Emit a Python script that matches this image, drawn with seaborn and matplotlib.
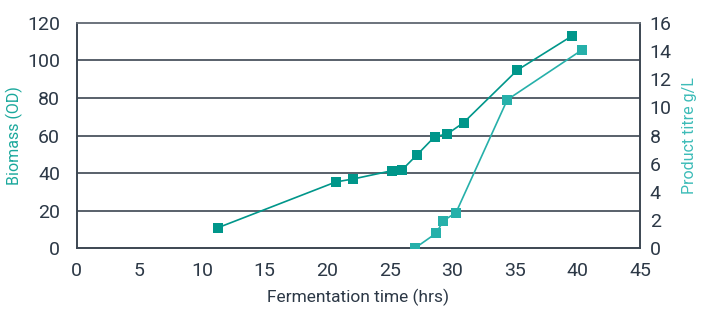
import matplotlib
matplotlib.use("Agg")
import matplotlib.pyplot as plt
import seaborn as sns
import pandas as pd

# Data
biomass_time = [11.3, 20.7, 22.1, 25.2, 26.0, 27.2, 28.6, 29.6, 30.9, 35.2, 39.6]
biomass_od = [11.0, 35.3, 36.9, 41.3, 41.8, 49.8, 59.4, 60.8, 66.8, 94.8, 113.1]
titre_time = [27.0, 28.7, 29.3, 30.3, 34.4, 40.4]
titre_gl = [0.0, 1.06, 1.96, 2.53, 10.54, 14.09]

x_ticks = [0, 5, 10, 15, 20, 25, 30, 35, 40, 45]
left_ticks = [0, 20, 40, 60, 80, 100, 120]
right_ticks = [0, 2, 4, 6, 8, 10, 12, 14, 16]

bio_df = pd.DataFrame({"time": biomass_time, "od": biomass_od})
tit_df = pd.DataFrame({"time": titre_time, "titre": titre_gl})

sns.set_style("white")
plt.rcParams["font.family"] = ["Roboto", "DejaVu Sans"]

BIO_C = "#00968a"
TIT_C = "#26b0aa"
TXT = "#2c3846"
GRID = "#3c4652"

fig = plt.figure(figsize=(7.01, 3.09), dpi=100)
ax = fig.add_axes([0.1094, 0.1964, 0.8036, 0.7301])
ax2 = ax.twinx()

ax.set_xlim(0, 45)
ax.set_ylim(0, 120)
ax2.set_ylim(0, 16)

for y in left_ticks[1:-1]:
    ax.axhline(y, color=GRID, lw=1.2, zorder=0)

sns.lineplot(data=bio_df, x="time", y="od", ax=ax, color=BIO_C, marker="s",
             markersize=6.5, markeredgewidth=0, lw=1.2, zorder=3)
sns.lineplot(data=tit_df, x="time", y="titre", ax=ax2, color=TIT_C, marker="s",
             markersize=6.5, markeredgewidth=0, lw=1.2, zorder=3)

ax.set_xticks(x_ticks)
ax.set_yticks(left_ticks)
ax2.set_yticks(right_ticks)
ax.set_xticklabels([str(v) for v in x_ticks])
ax.set_yticklabels([str(v) for v in left_ticks])
ax2.set_yticklabels([str(v) for v in right_ticks])

ax.tick_params(axis="x", direction="inout", length=10, width=1.2, color=GRID,
               labelsize=14, labelcolor=TXT, pad=5)
ax.tick_params(axis="y", length=0, labelsize=14, labelcolor=TXT, pad=12)
ax2.tick_params(axis="y", length=0, labelsize=14, labelcolor=TXT, pad=7)

for a in (ax, ax2):
    for s in a.spines.values():
        s.set_color(GRID)
        s.set_linewidth(1.2)
    a.spines["top"].set_color("#6b737c")

ax.set_xlabel("Fermentation time (hrs)", fontsize=12.5, color=TXT, labelpad=6)
ax.set_ylabel("Biomass (OD)", fontsize=11.5, color="#1aa89c")
ax2.set_ylabel("Product titre g/L", fontsize=11.5, color="#3dbcb8")
ax.yaxis.set_label_coords(-0.0953, 0.5)
ax2.yaxis.set_label_coords(1.0746, 0.5)

fig.savefig("out.png", dpi=100)
